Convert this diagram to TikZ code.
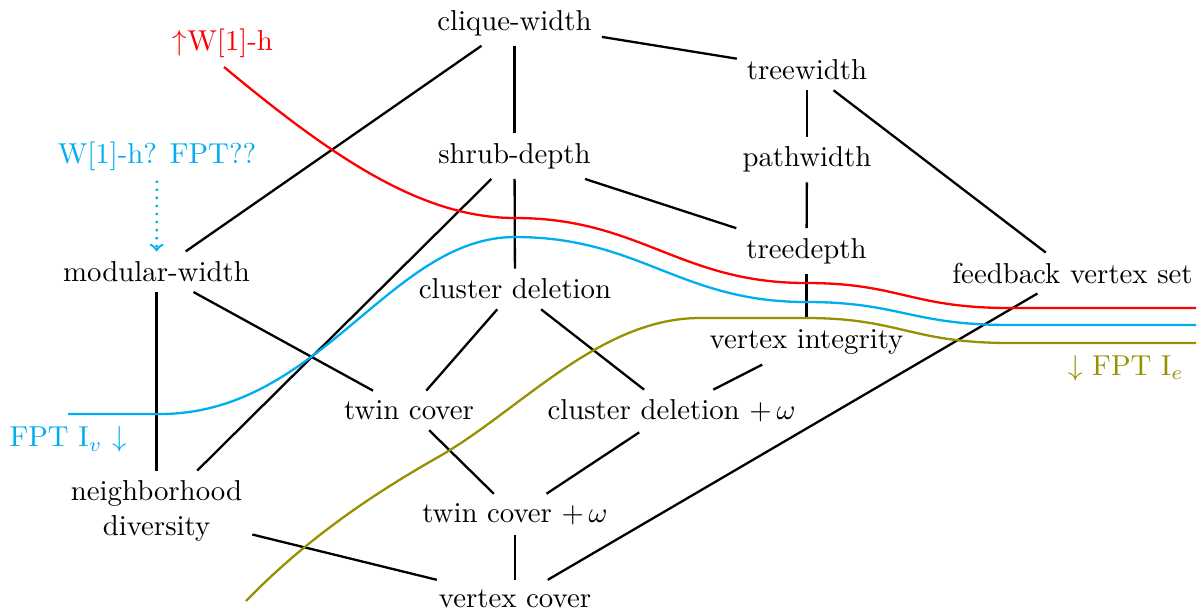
\documentclass[tikz,border=0pt]{standalone}
\definecolor{cyanc}{RGB}{0,174,239}
\definecolor{olivec}{RGB}{150,145,0}
\begin{document}
\begin{tikzpicture}[x=0.34722pt,y=-0.34722pt,
  edge/.style={thick,black},
  curve/.style={thick}]
\useasboundingbox (0,0) rectangle (1203,613);
% nodes
\node (cw) at (514.5,22.8) {clique-width};
\node (tw) at (807,70) {treewidth};
\node (sd) at (514.5,156) {shrub-depth};
\node (pw) at (807,159.5) {pathwidth};
\node (td) at (806.5,251) {treedepth};
\node (mw) at (156.5,271.7) {modular-width};
\node (cd) at (515,289) {cluster deletion};
\node (fvs) at (1072.5,273) {feedback vertex set};
\node (vi) at (806.5,342) {vertex integrity};
\node (tc) at (409,410.4) {twin cover};
\node (cdw) at (671.5,411) {cluster deletion $+\,\omega$};
\node (tcw) at (515,514.6) {twin cover $+\,\omega$};
\node (vc) at (515,599) {vertex cover};
\node[align=center] (nd) at (156.5,511) {neighborhood\\diversity};
% labels
\node[text=red] (wh) at (223,42.8) {$\uparrow$W[1]-h};
\node[text=cyanc] (q) at (157,156) {W[1]-h? FPT??};
\node[text=cyanc] (iv) at (68,439.5) {FPT I$_v$ $\downarrow$};
\node[text=olivec] (ie) at (1126,368) {$\downarrow$ FPT I$_e$};
% edges
\draw[edge] (cw) -- (tw);
\draw[edge] (cw) -- (sd);
\draw[edge] (cw) -- (mw);
\draw[edge] (tw) -- (pw);
\draw[edge] (tw) -- (fvs);
\draw[edge] (pw) -- (td);
\draw[edge] (sd) -- (td);
\draw[edge] (sd) -- (cd);
\draw[edge] (sd) -- (nd);
\draw[edge] (mw) -- (nd);
\draw[edge] (mw) -- (tc);
\draw[edge] (cd) -- (tc);
\draw[edge] (cd) -- (cdw);
\draw[edge] (td) -- (vi);
\draw[edge] (vi) -- (cdw);
\draw[edge] (tc) -- (tcw);
\draw[edge] (cdw) -- (tcw);
\draw[edge] (tcw) -- (vc);
\draw[edge] (nd) -- (vc);
\draw[edge] (fvs) -- (vc);
\draw[thick,cyanc,dotted,->] (q) -- (mw);
% curves
\draw[curve,red] (224,67) .. controls (330,155) and (420,218) .. (515,218)
  .. controls (640,218) and (680,283) .. (806,283)
  .. controls (900,283) and (910,308) .. (1010,308) -- (1196,308);
\draw[curve,cyanc] (68,414) -- (160,414) .. controls (320,414) and (390,237) .. (515,237)
  .. controls (640,237) and (680,302) .. (806,302)
  .. controls (900,302) and (910,325) .. (1010,325) -- (1196,325);
\draw[curve,olivec] (246,601) .. controls (310,535) and (380,490) .. (440,456)
  .. controls (520,410) and (600,318) .. (700,318) -- (806,318)
  .. controls (900,318) and (910,343) .. (1010,343) -- (1196,343);
\end{tikzpicture}
\end{document}
